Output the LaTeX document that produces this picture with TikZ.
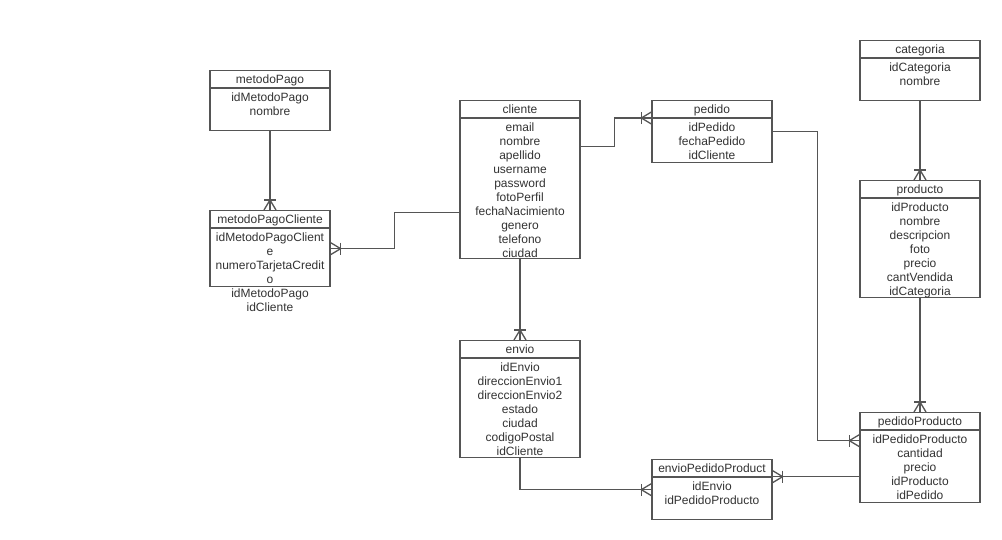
\documentclass[tikz,border=0pt]{standalone}
\usepackage{fontspec}
\setmainfont{Liberation Sans}
\definecolor{linec}{HTML}{555555}
\definecolor{txtc}{HTML}{333333}
\tikzset{
  ent/.style={draw=linec, line width=1.3pt, minimum width=120pt, inner sep=0pt, fill=white},
  conn/.style={draw=linec, line width=1.3pt},
  ttl/.style={font=\fontsize{12}{14}\selectfont, text=txtc, anchor=base, inner sep=0pt},
  attrs/.style={font=\fontsize{12}{14}\selectfont, text=txtc, anchor=north, align=center, inner sep=0pt},
}
\newcommand{\entbox}[6]{%
  \node[ent, minimum height=#4pt, anchor=north] (#1) at (#2,#3) {};
  \draw[conn] ([yshift=-18pt]#1.north west) -- ([yshift=-18pt]#1.north east);
  \node[ttl] (#1T) at ([yshift=-13pt]#1.north) {#5};
  \node[attrs] (#1A) at ([yshift=-22.5pt]#1.north) {#6};
}
\newcommand{\crowfoot}[2]{%
  \begin{scope}[shift={(#1)}, rotate=#2]
    \draw[conn] (10,-6) -- (10,6);
    \draw[conn] (0,-6) -- (10,0) -- (0,6);
  \end{scope}}
\begin{document}
\begin{tikzpicture}[x=1pt, y=-1pt]
\useasboundingbox (0,0) rectangle (1002,539);
% entities
\entbox{metodoPago}{270}{70}{60}{metodoPago}{idMetodoPago\\nombre}
\entbox{metodoPagoCliente}{270}{210}{76}{metodoPagoCliente}{idMetodoPagoClient\\e\\numeroTarjetaCredit\\o\\idMetodoPago\\idCliente}
\entbox{cliente}{520}{100}{158}{cliente}{email\\nombre\\apellido\\username\\password\\fotoPerfil\\fechaNacimiento\\genero\\telefono\\ciudad}
\entbox{pedido}{712}{100}{62}{pedido}{idPedido\\fechaPedido\\idCliente}
\entbox{categoria}{920}{40}{60}{categoria}{idCategoria\\nombre}
\entbox{producto}{920}{180}{117}{producto}{idProducto\\nombre\\descripcion\\foto\\precio\\cantVendida\\idCategoria}
\entbox{envio}{520}{340}{117}{envio}{idEnvio\\direccionEnvio1\\direccionEnvio2\\estado\\ciudad\\codigoPostal\\idCliente}
\entbox{envioPedidoProduct}{712}{459}{60}{envioPedidoProduct}{idEnvio\\idPedidoProducto}
\entbox{pedidoProducto}{920}{412}{90}{pedidoProducto}{idPedidoProducto\\cantidad\\precio\\idProducto\\idPedido}
% connectors
\draw[conn] (metodoPago.south) -- (metodoPagoCliente.north);
\crowfoot{metodoPagoCliente.north}{90}
\draw[conn] ([yshift=-33pt]cliente.west) -- ++(-65,0) |- (metodoPagoCliente.east);
\crowfoot{metodoPagoCliente.east}{0}
\draw[conn] ([yshift=33pt]cliente.east) -- ++(34,0) |- ([yshift=-18pt]pedido.north west);
\crowfoot{[yshift=-18pt]pedido.north west}{180}
\draw[conn] (cliente.south) -- (envio.north);
\crowfoot{envio.north}{90}
\draw[conn] (pedido.east) -- ++(45,0) |- ([yshift=17pt]pedidoProducto.west);
\crowfoot{[yshift=17pt]pedidoProducto.west}{180}
\draw[conn] (categoria.south) -- (producto.north);
\crowfoot{producto.north}{90}
\draw[conn] (producto.south) -- (pedidoProducto.north);
\crowfoot{pedidoProducto.north}{90}
\draw[conn] (envio.south) |- (envioPedidoProduct.west);
\crowfoot{envioPedidoProduct.west}{180}
\draw[conn] ([yshift=-19pt]pedidoProducto.west) -- ([yshift=13pt]envioPedidoProduct.east);
\crowfoot{[yshift=13pt]envioPedidoProduct.east}{0}
\end{tikzpicture}
\end{document}
